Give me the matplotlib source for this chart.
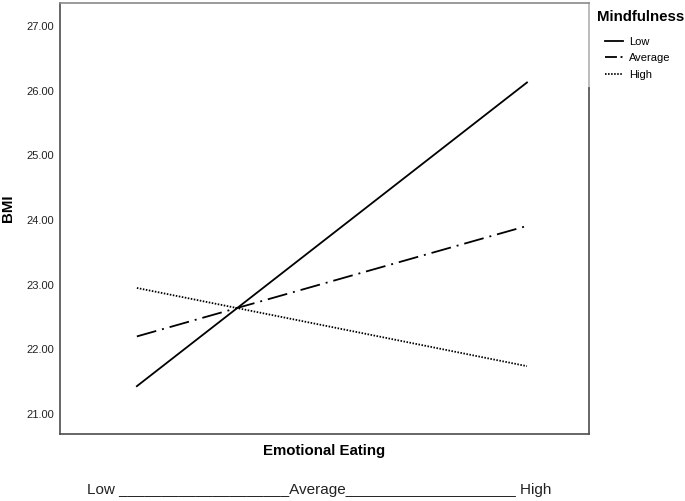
import matplotlib
matplotlib.use("Agg")
import matplotlib.pyplot as plt
from matplotlib.lines import Line2D

plt.rcParams['font.family'] = ['Liberation Sans', 'DejaVu Sans']
plt.rcParams['lines.scale_dashes'] = False

x_positions = [0, 1]
groups = ["Low", "Average", "High"]
bmi_low = [21.43, 26.13]
bmi_average = [22.20, 23.91]
bmi_high = [22.95, 21.74]
yticks = [21, 22, 23, 24, 25, 26, 27]

styles = {
    "Low": '-',
    "Average": (0, (14.5, 4.3, 1.4, 4.3)),
    "High": (0, (1.1, 1.1)),
}
legend_styles = {
    "Low": '-',
    "Average": (0, (8.6, 2.6, 1.4, 2.6)),
    "High": (0, (1.1, 1.1)),
}

fig = plt.figure(figsize=(6.85, 5.01), dpi=100)
ax = fig.add_axes([60/685, 67/501, (589-60)/685, (434-3)/501])

for name, vals in zip(groups, [bmi_low, bmi_average, bmi_high]):
    ax.plot(x_positions, vals, color='black', linewidth=1.3, label=name,
            linestyle=styles[name])

ax.set_xlim(-0.197, 1.159)
ax.set_ylim(20.69, 27.36)
ax.set_yticks(yticks)
ax.set_yticklabels([f"{v:.2f}" for v in yticks], fontsize=8, color='#222222')
ax.tick_params(axis='y', length=0, pad=4)
ax.set_xticks([])

for s in ['left', 'bottom']:
    ax.spines[s].set_color('#4d4d4d')
    ax.spines[s].set_linewidth(1.2)
ax.spines['top'].set_color('#8a8a8a')
ax.spines['top'].set_linewidth(1.2)
ax.spines['right'].set_visible(False)
ax.add_line(Line2D([1, 1], [0.803, 1], transform=ax.transAxes, color='#b0b0b0',
                   linewidth=1.2, clip_on=False))
ax.add_line(Line2D([1, 1], [0, 0.803], transform=ax.transAxes, color='#4d4d4d',
                   linewidth=1.2, clip_on=False))

fig.text(8/685, 1 - 208/501, "BMI", fontsize=10.8, fontweight='bold',
         rotation=90, ha='center', va='center')
fig.text(324.5/685, 1 - 451/501, "Emotional Eating", fontsize=10.8, fontweight='bold',
         ha='center', va='center')
fig.text(87/685, 1 - 490/501, "Low " + "_" * 20 + "Average" + "_" * 20 + " High",
         fontsize=11, ha='left', va='center', color='#222222')

fig.text(597/685, 1 - 17/501, "Mindfulness", fontsize=10.8, fontweight='bold',
         ha='left', va='center')
handles = [Line2D([], [], color='black', linewidth=1.3, linestyle=legend_styles[g])
           for g in groups]
leg = fig.legend(handles, groups, loc='upper left', bbox_to_anchor=(605/685, 1 - 37/501),
                 frameon=False, fontsize=8, handlelength=1.6, handletextpad=0.6,
                 labelspacing=0.57, borderaxespad=0, borderpad=0)

fig.savefig("out.png", dpi=100)
